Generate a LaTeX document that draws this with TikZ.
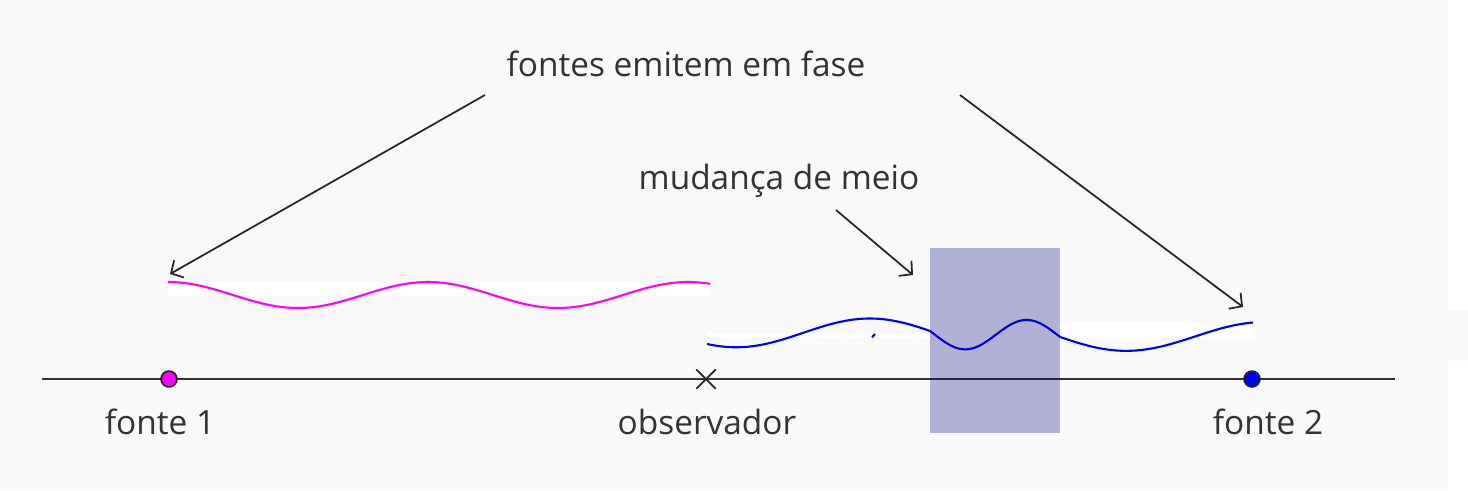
\documentclass[tikz,border=0pt]{standalone}
\usepackage{fontspec}
\setmainfont{Open Sans}
\usepackage{tikz}
\usetikzlibrary{positioning, arrows.meta, shapes.misc}
\definecolor{bggray}{HTML}{F9F9F9}
\definecolor{txtgray}{HTML}{333333}
\definecolor{meionavy}{HTML}{000080}
\definecolor{wavepink}{HTML}{FF00FF}
\definecolor{waveblue}{HTML}{0000FF}
\tikzstyle{txt} = [text=txtgray, font=\fontsize{9.5}{11}\selectfont, anchor=base, inner sep=0pt]
\tikzstyle{arrow} = [line width=0.5pt, draw=black!85, -{Straight Barb[length=2.6pt,width=5.6pt]}]
\tikzstyle{source} = [circle, minimum size=4.5pt, inner sep=0pt, draw=black!85, line width=0.5pt]
\tikzstyle{wave} = [line width=0.6pt]
\tikzstyle{strip} = [fill=white]

\begin{document}
\begin{tikzpicture}[x=0.01cm, y=-0.01cm]
        \useasboundingbox (0,0) rectangle (1468,490);
        \fill[white] (0,0) rectangle (1468,490);
        \fill[bggray] (0,0) rectangle (1448,490);
        \fill[bggray] (1448,310) rectangle (1468,361);

        % white strips behind the waves
        \fill[strip] (168,282) rectangle (710,296);
        \fill[strip] (707,333) rectangle (930,337);
        \fill[strip] (1060,323) rectangle (1253,338);

        % waves
        \draw[wave, wavepink] plot[domain=168:710, samples=120] (\x, {295-13*cos(360/260*(\x-168))});
        \draw[wave, waveblue] plot[domain=707:1253, samples=240]
            (\x, {332+5/546*(\x-707)+15*cos((\x<930) ? (360/272*(\x-735)) : ((\x<1060) ? (258.1+2.91*(\x-930)) : (636.5+1.285*(\x-1060))))});
        \draw[wave, waveblue] (872,337) -- (875,334);

        % axis
        \coordinate (left) at (42,379);
        \coordinate (right) at (1395,379);
        \draw[line width=0.5pt, txtgray] (left) -- (right);

        % medium
        \fill[meionavy, opacity=0.285] (930,248) rectangle (1060,433);

        \node (fonte1) [source, fill=wavepink] at (169,379) {};
        \node (fonte2) [source, fill=waveblue] at (1252,379) {};
        \node (obs) [cross out, draw=black!85, line width=0.5pt, minimum size=5pt, inner sep=0pt] at (706,379) {};

        \node (lfonte1) [txt] at (160,434) {fonte 1};
        \node (lobs) [txt] at (707,434) {observador};
        \node (lfonte2) [txt] at (1268,434) {fonte 2};
        \node (fase) [txt] at (686,76) {fontes emitem em fase};
        \node (meio) [txt] at (779,189) {mudança de meio};

        \coordinate (s1) at (485,95);
        \coordinate (t1) at (170,274);
        \coordinate (s2) at (960,95);
        \coordinate (t2) at (1243,307);
        \coordinate (s3) at (836,210);
        \coordinate (t3) at (913,275);
        \draw [arrow] (s1) -- (t1);
        \draw [arrow] (s2) -- (t2);
        \draw [arrow] (s3) -- (t3);
    \end{tikzpicture}
\end{document}
